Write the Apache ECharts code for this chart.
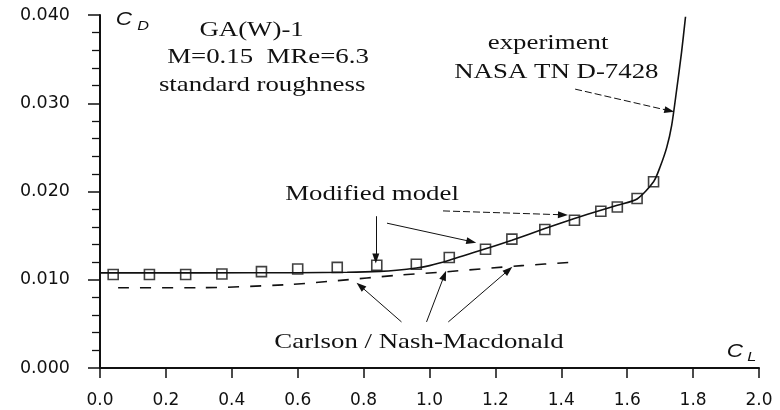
<!DOCTYPE html>
<html>
<head>
<meta charset="utf-8">
<script src="https://cdn.jsdelivr.net/npm/echarts@6/dist/echarts.min.js"></script>
<style>
  html, body { margin: 0; padding: 0; background: #fff; }
  #chart { width: 780px; height: 410px; }
</style>
</head>
<body>
<div id="chart"></div>
<script>
// Drag polar of the GA(W)-1 section, M=0.15, standard roughness

// Tick labels
const xTickLabels = ['0.0', '0.2', '0.4', '0.6', '0.8', '1.0', '1.2', '1.4', '1.6', '1.8', '2.0'];
const yTickLabels = ['0.000', '0.010', '0.020', '0.030', '0.040'];

// Experiment (NASA TN D-7428): solid curve
const experimentCL = [0.00, 0.30, 0.60, 0.75, 0.85, 0.90, 0.96, 1.00, 1.06, 1.17, 1.25, 1.35, 1.44, 1.52, 1.57, 1.63, 1.68, 1.70, 1.72, 1.735, 1.75, 1.765, 1.777];
const experimentCD = [0.01078, 0.01078, 0.01080, 0.01085, 0.01095, 0.01108, 0.01134, 0.01160, 0.01221, 0.01350, 0.01448, 0.01580, 0.01694, 0.01788, 0.01845, 0.01915, 0.0211, 0.0228, 0.0250, 0.0275, 0.0315, 0.0358, 0.0398];

// Modified model: open squares
const modelCL = [0.04, 0.15, 0.26, 0.37, 0.49, 0.60, 0.72, 0.84, 0.96, 1.06, 1.17, 1.25, 1.35, 1.44, 1.52, 1.57, 1.63, 1.68];
const modelCD = [0.0106, 0.0106, 0.0106, 0.01066, 0.01092, 0.01122, 0.01140, 0.01164, 0.01176, 0.01252, 0.01346, 0.0146, 0.01569, 0.01675, 0.01777, 0.01825, 0.0192, 0.0211];

// Carlson / Nash-Macdonald: dashed curve
const carlsonCL = [0.055, 0.30, 0.57, 0.72, 0.90, 1.05, 1.28, 1.44];
const carlsonCD = [0.0091, 0.0091, 0.00945, 0.0099, 0.0105, 0.0109, 0.0116, 0.0120];

// Annotation arrows: [fromCL, fromCD, toCL, toCD, dashed]
const arrows = [
  [1.442, 0.0316, 1.728, 0.02915, true],   // experiment
  [0.837, 0.0172, 0.837, 0.01240, false],  // modified model, vertical
  [0.871, 0.01641, 1.127, 0.01432, false], // modified model
  [1.041, 0.0178, 1.405, 0.01736, true],   // modified model
  [0.915, 0.00522, 0.790, 0.00930, false], // Carlson
  [0.991, 0.00522, 1.045, 0.01050, false], // Nash-Macdonald
  [1.057, 0.00522, 1.240, 0.01110, false]
];

// Text annotations: [CL, CD, text]
const notes = [
  [0.46, 0.0383, 'GA(W)-1'],
  [0.51, 0.03517, 'M=0.15  MRe=6.3'],
  [0.492, 0.0320, 'standard roughness'],
  [1.36, 0.03685, 'experiment'],
  [1.385, 0.03356, 'NASA TN D-7428'],
  [0.8255, 0.01969, 'Modified model'],
  [0.968, 0.00295, 'Carlson / Nash-Macdonald']
];

const zip = (a, b) => a.map((v, i) => [v, b[i]]);
const ink = '#111';

const chart = echarts.init(document.getElementById('chart'), null, { renderer: 'canvas' });

chart.setOption({
  animation: false,
  backgroundColor: '#fff',
  grid: { left: 100, right: 21, top: 15, bottom: 42 },
  xAxis: {
    type: 'value', min: 0, max: 2, interval: 0.2,
    axisLine: { show: true, onZero: false, lineStyle: { color: ink, width: 2 } },
    axisTick: { show: true, length: 10, lineStyle: { color: ink, width: 1.5 } },
    axisLabel: {
      margin: 24, fontFamily: 'DejaVu Sans', fontSize: 17, color: ink,
      formatter: v => xTickLabels[Math.round(v / 0.2)]
    },
    splitLine: { show: false }
  },
  yAxis: {
    type: 'value', min: 0, max: 0.04, interval: 0.01,
    axisLine: { show: true, onZero: false, lineStyle: { color: ink, width: 2 } },
    axisTick: { show: true, length: 12, lineStyle: { color: ink, width: 1.5 } },
    minorTick: { show: true, splitNumber: 5, length: 8, lineStyle: { color: ink, width: 1.3 } },
    axisLabel: {
      margin: 30, fontFamily: 'DejaVu Sans', fontSize: 17.5, color: ink,
      formatter: v => yTickLabels[Math.round(v / 0.01)]
    },
    splitLine: { show: false },
    minorSplitLine: { show: false }
  },
  series: [
    {
      name: 'experiment',
      type: 'line',
      data: zip(experimentCL, experimentCD),
      showSymbol: false,
      smooth: 0.25,
      lineStyle: { color: ink, width: 1.6 },
      silent: true,
      z: 2,
      markLine: {
        silent: true,
        animation: false,
        symbol: ['none', 'triangle'],
        symbolSize: [7, 10],
        label: { show: false },
        emphasis: { disabled: true },
        lineStyle: { color: ink, width: 1, type: 'solid' },
        data: arrows.map(a => [
          { coord: [a[0], a[1]], lineStyle: { color: ink, width: 1, type: a[4] ? [7, 3] : 'solid' } },
          { coord: [a[2], a[3]] }
        ])
      }
    },
    {
      name: 'Carlson / Nash-Macdonald',
      type: 'line',
      data: zip(carlsonCL, carlsonCD),
      showSymbol: false,
      smooth: 0.3,
      lineStyle: { color: ink, width: 1.6, type: [11, 11] },
      silent: true,
      z: 2
    },
    {
      name: 'Modified model',
      type: 'scatter',
      data: zip(modelCL, modelCD),
      symbol: 'rect',
      symbolSize: 10,
      itemStyle: { color: 'rgba(255,255,255,0)', borderColor: ink, borderWidth: 1.6 },
      silent: true,
      z: 3
    }
  ]
});

// Place text annotations in data coordinates
const px = (x, y) => chart.convertToPixel({ gridIndex: 0 }, [x, y]);
const graphics = notes.map(n => {
  const p = px(n[0], n[1]);
  return {
    type: 'text', x: p[0], y: p[1], scaleX: 1.22, silent: true,
    style: { text: n[2], align: 'center', verticalAlign: 'middle', fill: ink,
             font: '22px "Liberation Serif", "DejaVu Serif", serif' }
  };
});

// Axis titles C_D and C_L
const axisTitles = [
  [0.0728, 0.03948, 'C', 18], [0.1305, 0.03874, 'D', 13],
  [1.927, 0.00181, 'C', 18], [1.978, 0.00125, 'L', 13]
];
axisTitles.forEach(t => {
  const p = px(t[0], t[1]);
  graphics.push({
    type: 'text', x: p[0], y: p[1], scaleX: 1.25, silent: true,
    style: { text: t[2], align: 'center', verticalAlign: 'middle', fill: ink,
             font: 'italic ' + t[3] + 'px "Liberation Sans", Arial, sans-serif' }
  });
});

chart.setOption({ graphic: graphics });
</script>
</body>
</html>
